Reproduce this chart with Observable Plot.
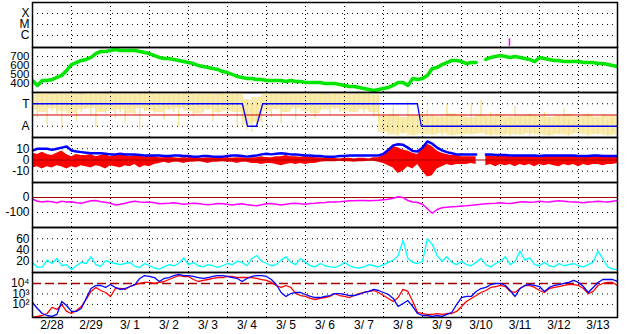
<!DOCTYPE html>
<html><head><meta charset="utf-8">
<script src="https://cdn.jsdelivr.net/npm/d3@7"></script>
<script src="https://cdn.jsdelivr.net/npm/@observablehq/plot@0.6"></script>
<style>
body{margin:0;background:#fff;}
#chart{position:relative;width:628px;height:334px;overflow:hidden;}
#chart svg{position:absolute;left:0;}
</style></head><body><div id="chart"></div>
<script>
// ---- time grid (UT) ----
const START = "2024-02-28T00:00Z";
const STEP_HOURS = 3;
const NDAYS = 15;
const dayLabels = ["2/28","2/29","3/ 1","3/ 2","3/ 3","3/ 4","3/ 5","3/ 6","3/ 7","3/ 8","3/ 9","3/10","3/11","3/12","3/13"];

// ---- X-ray flare marker ----
const flareTimes = ["2024-03-11T05:30Z"];
const flareLow = [1e-7];
const flarePeak = [5e-7];

// ---- solar wind speed (km/s), 3-hourly ----
const speed = [433,378,433,433,444,467,489,544,611,633,
 656,667,689,733,756,756,767,778,767,767,
 767,767,756,744,733,711,689,678,678,667,
 656,644,633,622,600,589,578,567,556,533,
 522,500,478,467,456,456,444,444,433,433,
 433,433,422,433,422,422,411,411,411,411,
 400,400,400,389,378,367,367,356,344,333,
 322,333,344,356,378,411,411,378,456,444,
 456,489,567,578,611,633,656,656,644,622,
 633,633,null,667,689,700,711,700,689,700,
 689,678,667,644,689,678,667,656,656,644,
 644,644,644,633,633,633,622,622,611,600,
 589];

// ---- IMF phi (deg): dense core per 6h bin, sparse streaks per 3h bin, sector ----
const phiCoreLo = [220,200,230,210,190,220,230,200,210,220,190,230,210,200,220,230,210,190,220,200,210,200,
 100,120,
 210,220,200,230,210,190,220,230,210,200,220,200,
 40,20,30,15,25,20,30,15,20,25,30,20,15,25,20,30,20,15,25,20,30,20,25,15,20];
const phiCoreHi = [350,352,348,355,350,346,352,350,348,355,350,352,348,350,355,350,346,352,350,348,350,352,
 300,320,
 350,352,348,350,355,350,348,352,350,346,350,340,
 170,180,160,175,185,170,165,190,175,160,180,170,185,165,175,180,170,160,175,185,170,180,165,175,170];
const phiLo = [200,150,230,100,210,180,60,220,240,130,200,230,170,80,210,190,240,150,200,120,
 230,180,60,210,230,190,240,140,220,200,90,230,210,160,240,200,220,130,190,230,
 170,210,80,150,60,40,70,120,200,160,230,110,200,220,140,240,190,230,150,210,
 240,180,220,200,150,230,210,240,190,220,160,120,30,20,40,10,30,60,20,40,
 10,50,20,30,10,40,20,30,10,40,20,30,50,20,10,30,40,20,10,30,
 20,40,10,30,20,40,10,30,20,40,10,30,20,40,10,30,20,40,10,30,20];
const phiHi = [350,345,355,340,350,355,345,350,355,350,345,350,355,345,350,340,355,350,345,350,
 355,350,345,340,350,355,345,350,355,340,345,350,355,345,350,340,350,355,345,350,
 340,350,345,340,300,260,280,330,350,345,355,350,345,350,340,355,350,345,350,355,
 345,350,355,350,345,355,350,355,345,350,355,340,200,160,250,180,150,290,170,140,
 160,220,180,150,170,260,160,140,190,150,280,170,300,160,200,150,180,140,170,250,
 160,150,190,170,140,200,160,150,180,230,160,140,170,150,190,160,150,180,140,170,150];
const sectorT = ["2024-02-28T00:00Z","2024-03-04T09:10Z","2024-03-04T12:20Z","2024-03-04T17:50Z","2024-03-04T21:40Z","2024-03-08T20:50Z","2024-03-08T23:15Z","2024-03-14T00:00Z"];
const sectorPhi = [270,270,90,90,270,270,90,90];

// ---- IMF Bt and Bz (nT), 3-hourly ----
const bt = [8.4,10,10,10,9,10,11,12,8.5,7.5,
 7,6.5,6,6,6,5.5,5,5,5.5,5,
 5,5,4.5,4,4,4,4,3.5,3.5,4,
 4,3.5,3.5,3,3,3.5,3.5,3,3,3,
 3.5,4,4,3.5,3,3.5,4,5,5.5,5,
 5.5,6,5.5,5,5,4.5,4,4,3.5,3.5,
 3,3,3,3.5,3.5,4,4,4,4,4,
 4,4,5.5,9,13,14,13.5,11,8,7.5,
 11,16.5,14.5,11,8.5,7,6,5,5,5,
 5,5,null,5,5,4.5,4.5,4.5,4,4,
 4,4,4,4,3.5,4,4,4,4,4,
 4,4,3.5,3.5,3.5,4,4,3.5,3.5,3.5,
 3.5];
const bzHi = [6,5,7,5,4,6,8,5,3,5,
 4,4,5,3,4,5,3,4,5,4,
 3,4,5,3,4,3,2,2,3,2,
 1.5,2,2,3,2,1.5,2,2,1.5,2,
 2,1.5,2,2,1.5,2,2,3,2,2,
 3,3,4,3,3,2.5,3,3,2,2,
 1.5,1.5,1.5,1,1.5,1.5,1,1.5,1.5,1,
 2,2,4,10,12,11,9,8,6,5,
 10,14,12,8,6,5,4,4,3,3,
 3,3,null,4,4,3,4,4,3,4,
 4,3,4,4,3,4,4,3,4,3,
 4,4,3,4,4,3,4,3,4,4,
 3];
const bzLo = [-7,-6,-8,-6,-7,-5,-6,-8,-6,-7,
 -5,-6,-7,-5,-6,-8,-5,-6,-7,-5,
 -6,-4,-7,-5,-6,-4,-3,-2,-3,-2,
 -2,-3,-2,-2,-1.5,-2,-3,-2,-2,-1.5,
 -2,-2,-3,-2,-2,-3,-3,-4,-3,-3,
 -4,-5,-4,-3,-4,-3,-4,-3,-3,-2,
 -1.5,-1.5,-1.5,-1,-1.5,-1.5,-2,-1.5,-1.5,-1,
 -1,-2,-3,-5,-7,-12,-10,-6,-8,-4,
 -10,-15,-14,-8,-6,-4,-5,-4,-4,-4,
 -3,-4,null,-5,-4,-6,-4,-5,-4,-6,
 -4,-5,-4,-6,-4,-5,-4,-5,-6,-4,
 -5,-4,-6,-4,-5,-4,-4,-5,-4,-4,
 -3];

// ---- Dst (nT), 3-hourly ----
const dst = [-10,-25,-30,-25,-28,-35,-25,-30,-28,-35,
 -38,-30,-22,-20,-28,-32,-38,-50,-45,-38,
 -30,-25,-30,-32,-30,-35,-42,-40,-38,-35,
 -40,-45,-42,-38,-40,-45,-48,-45,-40,-42,
 -45,-50,-45,-42,-48,-52,-55,-48,-42,-40,
 -45,-50,-45,-40,-38,-42,-45,-40,-38,-35,
 -33,-30,-30,-28,-25,-22,-22,-20,-20,-22,
 -20,-18,-15,-12,-5,5,0,-20,-30,-33,
 -45,-75,-105,-80,-68,-65,-62,-60,-57,-55,
 -52,-48,-45,-42,-40,-38,-35,-38,-40,-35,
 -30,-28,-32,-30,-25,-28,-30,-25,-22,-25,
 -28,-30,-32,-35,-30,-28,-25,-28,-30,-25,
 -22];

// ---- proton density (cm^-3), 3-hourly ----
const density = [18,9,10,22,16,25,12,14,5,12,
 18,16,28,14,11,21,18,16,14,16,
 18,11,9,16,12,8,6,10,14,12,
 16,26,14,18,12,10,14,12,9,12,
 16,14,20,18,12,25,30,20,16,12,
 14,22,28,18,14,25,18,12,10,16,
 12,10,9,12,18,12,9,8,10,14,
 12,10,14,18,22,30,57,25,18,16,
 20,60,50,30,20,28,18,14,20,14,
 12,18,25,14,10,16,20,28,14,20,
 38,22,26,14,12,18,12,10,16,12,
 14,16,12,10,14,18,38,24,10,6,
 5];

// ---- electron flux, log10 values, 3-hourly ----
const fluxBlueLog = [2.18,1.61,1.13,0.94,0.85,1.04,2.28,1.90,1.33,1.33,
 1.61,2.57,3.52,3.81,3.81,3.62,3.90,3.62,3.43,3.52,
 3.71,3.90,4.48,4.76,4.67,4.57,4.19,4.48,4.57,4.76,
 4.86,4.76,4.76,4.67,4.57,4.48,4.57,4.67,4.76,4.76,
 4.67,4.57,4.48,4.19,4.48,4.67,4.76,4.76,4.67,4.38,
 3.90,3.14,2.76,3.04,3.14,3.14,2.95,2.76,2.66,2.66,
 2.76,2.85,3.04,3.04,2.95,2.85,2.85,2.95,3.14,3.24,
 3.43,3.33,3.14,2.95,2.57,1.80,2.09,2.37,1.80,1.13,
 0.94,0.94,0.85,0.94,0.85,1.04,1.23,1.99,2.66,2.76,
 2.76,3.24,3.52,3.62,3.90,4.00,4.00,3.81,3.33,2.76,
 3.52,3.81,3.90,3.81,3.71,3.24,3.62,3.81,3.90,4.00,
 4.10,4.29,4.10,3.71,3.14,3.62,4.10,4.38,4.38,4.38,
 4.19];
const fluxRedLog = [0.75,0.85,0.94,1.13,1.71,1.52,1.99,1.33,1.13,1.42,
 1.80,2.47,3.24,3.62,3.33,3.14,2.76,3.52,3.52,3.43,
 3.71,3.90,4.00,4.10,4.10,4.00,4.10,4.19,4.38,4.57,
 4.76,4.67,4.67,4.38,4.19,4.29,4.38,4.48,4.57,4.57,
 4.67,4.67,4.57,4.57,4.57,4.57,4.48,4.38,4.29,4.10,
 3.81,3.62,3.81,3.62,3.04,2.85,2.76,2.57,2.47,2.57,
 2.66,2.76,3.04,2.85,2.76,2.66,2.85,3.04,3.14,3.24,
 3.33,3.14,2.85,2.57,2.28,2.66,3.43,3.24,2.28,1.23,
 1.13,1.04,1.04,1.13,1.04,1.13,1.13,1.33,1.80,2.28,
 2.57,2.85,3.14,3.33,3.62,3.71,3.81,3.71,3.24,3.14,
 3.52,3.81,3.81,3.62,3.33,3.14,3.52,3.62,3.71,3.81,
 3.90,3.90,3.81,3.52,3.04,3.24,3.81,4.00,4.10,4.10,
 3.81];
const fluxThreshold = 1e4;

// ---- layout / helpers ----
const W = 628, ML = 32, MR = 11, PH = 45, TOP = 2, XAXIS = 17;
const FONT = "'Liberation Sans', Arial, Helvetica, sans-serif";
const t0 = Date.parse(START);
const DAY = 864e5;
const T = (i, step = STEP_HOURS) => new Date(t0 + i * step * 36e5);
const xDomain = [new Date(t0), new Date(t0 + NDAYS * DAY)];
const dayStarts = d3.range(1, NDAYS).map(d => new Date(t0 + d * DAY));
const dayNoons = d3.range(0, NDAYS).map(d => new Date(t0 + d * DAY + DAY / 2));
const series = arr => arr.map((v, i) => ({t: T(i), v: v == null ? NaN : v}));
const ranges = (lo, hi, step = STEP_HOURS) => lo.map((v, i) => ({t: T(i, step), lo: v == null ? NaN : v, hi: hi[i] == null ? NaN : hi[i]}));

function panel(k, y, ticks, labels, marks, opts = {}) {
  const last = !!opts.last;
  const lab = new Map(ticks.map((t, i) => [t, labels[i]]));
  const dayLab = new Map(dayNoons.map((d, i) => [+d, dayLabels[i]]));
  const grid = [
    Plot.ruleY(opts.grid || ticks, {stroke: "black", strokeDasharray: "1,4", strokeWidth: 1}),
    Plot.ruleX(dayStarts, {stroke: "black", strokeDasharray: "1,3", strokeWidth: 1})
  ];
  const svg = Plot.plot({
    width: W, height: PH + (last ? XAXIS : 0),
    marginLeft: ML, marginRight: MR, marginTop: 0, marginBottom: last ? XAXIS : 0,
    style: {fontFamily: FONT, fontSize: "12px", background: "transparent", overflow: "visible", color: "black"},
    x: {type: "utc", domain: xDomain, axis: null},
    y: {...y, axis: null},
    marks: [
      ...(opts.gridOnTop ? [] : grid),
      ...marks,
      ...(opts.gridOnTop ? grid : []),
      ...(opts.over || []),
      Plot.axisY(ticks, {tickSize: 0, tickPadding: 3, fontSize: opts.fontSize || 12, label: null, tickFormat: d => lab.get(d), fill: "black"}),
      last ? Plot.axisX(dayNoons, {tickSize: 0, tickPadding: 3, fontSize: 12, label: null, tickFormat: d => dayLab.get(+d), fill: "black"}) : null,
      Plot.frame({stroke: "black", strokeWidth: 1.5})
    ]
  });
  svg.style.top = (TOP + k * PH) + "px";
  document.getElementById("chart").appendChild(svg);
}

// 1: X-ray class
panel(0, {type: "log", domain: [10 ** -7.1, 1e-3]}, [1e-4, 1e-5, 1e-6], ["X", "M", "C"], [
  Plot.ruleX(flareTimes.map((t, i) => ({t: new Date(t), lo: flareLow[i], hi: flarePeak[i]})),
    {x: "t", y1: "lo", y2: "hi", stroke: "#ff00ff", strokeWidth: 1.5, clip: true})
]);

// 2: solar wind speed
panel(1, {domain: [300, 800]}, [700, 600, 500, 400], ["700", "600", "500", "400"], [
  Plot.line(series(speed), {x: "t", y: "v", stroke: "#00e600", strokeWidth: 3.5, clip: true})
], {fontSize: 11.5});

// 3: IMF phi / sector
panel(2, {domain: [0, 360]}, [270, 90], ["T", "A"], [
  Plot.areaY(ranges(phiCoreLo, phiCoreHi, 6), {x: "t", y1: "lo", y2: "hi", curve: "step", fill: "#f8e496", fillOpacity: 0.75, clip: true}),
  Plot.ruleX(ranges(phiLo, phiHi), {x: "t", y1: "lo", y2: "hi", stroke: "#f7e394", strokeWidth: 1.4, clip: true})
], {gridOnTop: true, over: [
  Plot.ruleY([180], {stroke: "#d00000", strokeWidth: 1.2}),
  Plot.line(sectorT.map((t, i) => ({t: new Date(t), v: sectorPhi[i]})), {x: "t", y: "v", stroke: "#0000ff", strokeWidth: 1.3, clip: true})
]});

// 4: Bt / Bz
panel(3, {domain: [-20, 20]}, [10, 0, -10], ["10", "0", "-10"], [
  Plot.areaY(ranges(bzLo, bzHi), {x: "t", y1: "lo", y2: "hi", fill: "#ff0000", clip: true}),
  Plot.ruleY([0], {stroke: "#a00000", strokeWidth: 1.2}),
  Plot.line(series(bt), {x: "t", y: "v", stroke: "#0000ff", strokeWidth: 2.5, clip: true})
], {grid: [10, -10]});

// 5: Dst
panel(4, {domain: [-200, 100]}, [0, -100], ["0", "-100"], [
  Plot.ruleY([0], {stroke: "#a00000", strokeWidth: 1.2}),
  Plot.line(series(dst), {x: "t", y: "v", stroke: "#ff00ff", strokeWidth: 1.5, clip: true})
], {grid: [-100]});

// 6: density
panel(5, {domain: [0, 80]}, [60, 40, 20], ["60", "40", "20"], [
  Plot.line(series(density), {x: "t", y: "v", stroke: "#00ffff", strokeWidth: 1.3, clip: true})
]);

// 7: electron flux (log)
panel(6, {type: "log", domain: [10 ** 0.75, 10 ** 5.05]}, [1e4, 1e3, 1e2], ["10\u2074", "10\u00b3", "10\u00b2"], [
  Plot.ruleY([fluxThreshold], {stroke: "#a00000", strokeWidth: 1.3, strokeDasharray: "9,4"}),
  Plot.line(series(fluxRedLog.map(v => 10 ** v)), {x: "t", y: "v", stroke: "#ff0000", strokeWidth: 1.3, clip: true}),
  Plot.line(series(fluxBlueLog.map(v => 10 ** v)), {x: "t", y: "v", stroke: "#0000ff", strokeWidth: 1.3, clip: true})
], {last: true, grid: [1e3, 1e2]});
</script>
</body></html>
